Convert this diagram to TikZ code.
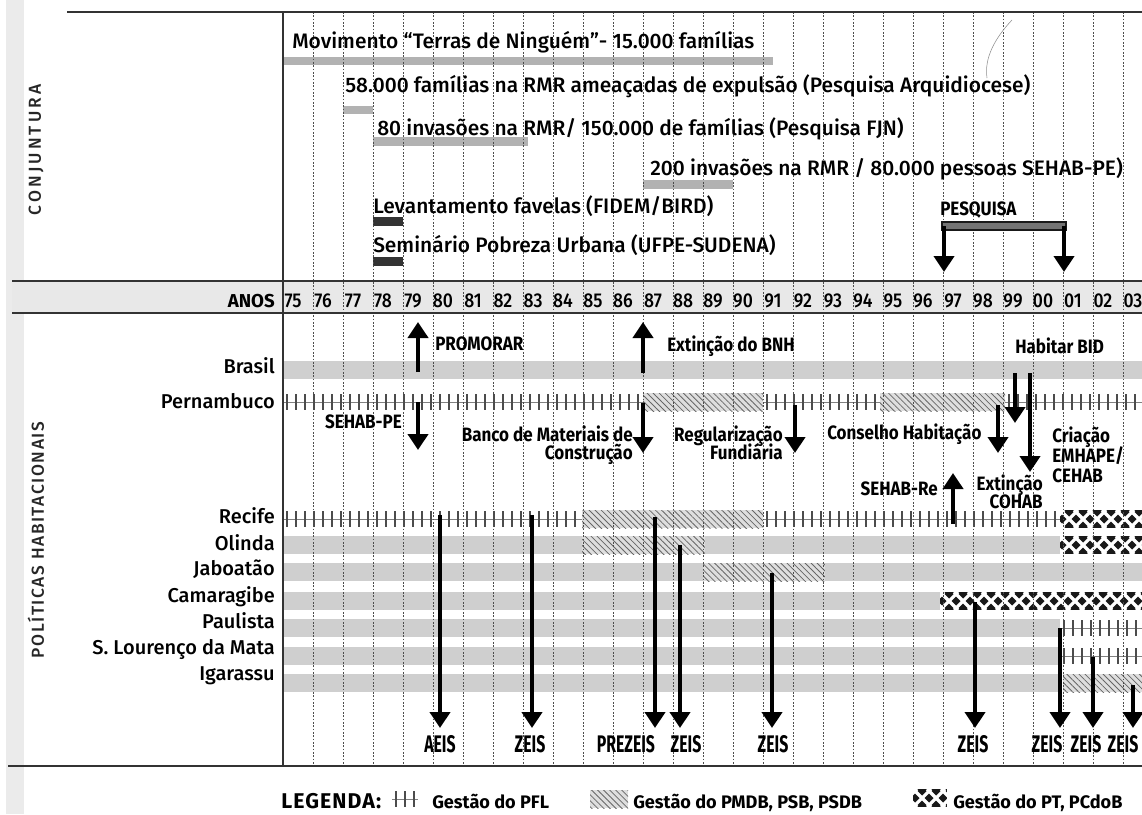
\documentclass[tikz,border=0pt]{standalone}
\usepackage{fontspec}
\setmainfont{Fira Sans}[UprightFont=* Medium, BoldFont=* Bold]
\newfontfamily\condfont{Fira Sans}[UprightFont=* Medium, BoldFont=* Bold, FakeStretch=0.88]
\newfontfamily\zeisfont{Fira Sans}[UprightFont=* Medium, BoldFont=* Bold, FakeStretch=0.66]
\usepackage{tikz}
\usetikzlibrary{arrows.meta,patterns.meta}

\tikzset{
  gridline/.style={black!70, line width=0.45pt, dash pattern=on 1.2pt off 1.3pt},
  frameline/.style={black!80, line width=1.1pt},
  conjtxt/.style={anchor=base west, inner sep=0pt, font=\fontsize{15.7}{17}\selectfont},
  rowlbl/.style={anchor=base east, inner sep=0pt, font=\fontsize{15}{17}\selectfont},
  anolbl/.style={anchor=base, inner sep=0pt, font=\condfont\fontsize{15}{17}\selectfont},
  evtlbl/.style={inner sep=0pt, font=\condfont\bfseries\fontsize{14.5}{16}\selectfont},
  evtlines/.style={evtlbl, font={\condfont\bfseries\fontsize{14.5}{#1}\selectfont\lineskiplimit=-100pt}},
  zeislbl/.style={anchor=base, inner sep=0pt, font=\zeisfont\bfseries\fontsize{18}{20}\selectfont},
  sidelbl/.style={rotate=90, inner sep=0pt, text=black!85},
  legtxt/.style={anchor=base west, inner sep=0pt, font=\bfseries\fontsize{13.6}{15}\selectfont},
  evt/.style={line width=3pt, -{Triangle[width=15pt,length=12pt]}},
  conjbar/.style={fill=black!30},
  darkbar/.style={fill=black!80},
}

% bands: {x from}{x to}{top y}
\newcommand{\grayband}[3]{\fill[black!19] (#1,#3) rectangle (#2,#3+18);}
\newcommand{\pflband}[3]{%
  \draw[black!50, line width=0.5pt] (#1,#3+9) -- (#2,#3+9);
  \pgfmathtruncatemacro{\ntk}{(#2-#1-4)/9}
  \foreach \tk in {0,...,\ntk}
    \draw[black!70, line width=1.1pt] ({#1+4+9*\tk},#3+1) -- ++(0,16);
}
\newcommand{\pmdbband}[3]{%
  \fill[black!13] (#1,#3) rectangle (#2,#3+18);
  \fill[pattern={Lines[angle=-45,distance=3.2pt,line width=0.6pt]}, pattern color=black!60]
    (#1,#3) rectangle (#2,#3+18);
}
\newcommand{\ptband}[3]{%
  \begin{scope}
    \clip (#1,#3) rectangle (#2,#3+18);
    \fill[black!90] (#1,#3) rectangle (#2,#3+18);
    \pgfmathtruncatemacro{\ntk}{(#2-#1)/14+2}
    \foreach \tk in {-2,...,\ntk} {
      \draw[white, line width=2.4pt] ({#1+14*\tk},#3) -- ++(18,18);
      \draw[white, line width=2.4pt] ({#1+14*\tk},#3+18) -- ++(18,-18);
    }
  \end{scope}
}

\begin{document}
\begin{tikzpicture}[x=0.75pt, y=-0.75pt]
\useasboundingbox (0,0) rectangle (1142,814);

% binding shade and years row
\fill[black!8] (6,0) rectangle (24,814);
\fill[black!9] (12,281) rectangle (1142,313);

% Conjuntura bars
\fill[conjbar] (283,57) rectangle (773,65);
\fill[conjbar] (343,106) rectangle (373,114);
\fill[conjbar] (373,137) rectangle (528,146);
\fill[conjbar] (643,180) rectangle (733,189);
\fill[darkbar] (373,217) rectangle (403,226);
\fill[darkbar] (373,257) rectangle (403,266);

% Politicas bands
\grayband{283}{1142}{361}
\pflband{283}{643}{393}
\pmdbband{643}{763}{393}
\pflband{763}{880}{393}
\pmdbband{880}{1005}{393}
\pflband{1005}{1142}{393}
\pflband{283}{582}{510}
\pmdbband{582}{763}{510}
\pflband{763}{1060}{510}
\ptband{1060}{1142}{510}
\grayband{283}{582}{536}
\pmdbband{582}{705}{536}
\grayband{705}{1060}{536}
\ptband{1060}{1142}{536}
\grayband{283}{703}{563}
\pmdbband{703}{825}{563}
\grayband{825}{1142}{563}
\grayband{283}{940}{592}
\ptband{940}{1142}{592}
\grayband{283}{1060}{619}
\pflband{1060}{1142}{619}
\grayband{283}{1060}{647}
\pflband{1060}{1142}{647}
\grayband{283}{1058}{674}
\pmdbband{1063}{1142}{674}

% Grid
\foreach \k in {0,...,27}
  \draw[gridline] ({313+30*\k},12) -- ({313+30*\k},766);

% Frame
\draw[frameline] (67,12) -- (1142,12);
\draw[frameline] (12,281) -- (1142,281);
\draw[frameline] (12,313) -- (1142,313);
\draw[frameline] (8,766) -- (1142,766);
\draw[black!80, line width=0.8pt] (283,12) -- (283,766);
\draw[black!45, line width=0.4pt] (1012,20) .. controls (995,38) and (984,58) .. (987,78);

% Side titles
\node[sidelbl, font={\fontsize{13}{15}\selectfont\addfontfeature{LetterSpace=18}}] (conjuntura) at (36,150) {CONJUNTURA};
\node[sidelbl, font={\fontsize{13}{15}\selectfont\addfontfeature{LetterSpace=9}}] (politicas) at (36,540) {POLÍTICAS HABITACIONAIS};

% Conjuntura
\node[conjtxt] (movimento) at (292,48) {Movimento “Terras de Ninguém”- 15.000 famílias};
\node[conjtxt] (ameacadas) at (345,92) {58.000 famílias na RMR ameaçadas de expulsão (Pesquisa Arquidiocese)};
\node[conjtxt] (invasoes80) at (377,135) {80 invasões na RMR/ 150.000 de famílias (Pesquisa FJN)};
\node[conjtxt] (invasoes200) at (650,175) {200 invasões na RMR / 80.000 pessoas SEHAB-PE)};
\node[conjtxt] (levantamento) at (373,213) {Levantamento favelas (FIDEM/BIRD)};
\node[conjtxt] (seminario) at (373,252) {Seminário Pobreza Urbana (UFPE-SUDENA)};

% Pesquisa
\node[evtlbl, anchor=base west] (pesquisa) at (940,215) {PESQUISA};
\coordinate (pesq-a) at (944,226);
\coordinate (pesq-a2) at (944,272);
\coordinate (pesq-b) at (1064,226);
\coordinate (pesq-b2) at (1064,272);
\filldraw[fill=black!55, draw=black!90, line width=1pt] (942,222) rectangle (1066,230);
\draw[evt] (pesq-a) -- (pesq-a2);
\draw[evt] (pesq-b) -- (pesq-b2);

% Anos
\node[anchor=base east, inner sep=0pt, font=\bfseries\fontsize{14}{16}\selectfont] (anos) at (275,307) {ANOS};
\foreach \yr [count=\i from 0] in {75,...,99,00,01,02,03}
  \node[anolbl] (ano\yr) at ({293+30*\i},307) {\yr};

% Rows
\node[rowlbl] (brasil) at (275,373) {Brasil};
\node[rowlbl] (pernambuco) at (275,408) {Pernambuco};
\node[rowlbl] (recife) at (275,523) {Recife};
\node[rowlbl] (olinda) at (275,550) {Olinda};
\node[rowlbl] (jaboatao) at (275,575) {Jaboatão};
\node[rowlbl] (camaragibe) at (275,602) {Camaragibe};
\node[rowlbl] (paulista) at (275,628) {Paulista};
\node[rowlbl] (lourenco) at (275,654) {S. Lourenço da Mata};
\node[rowlbl] (igarassu) at (275,680) {Igarassu};

% Events
\node[evtlbl, anchor=base west] (promorar) at (435,350) {PROMORAR};
\node[evtlbl, anchor=base west] (bnh) at (667,351) {Extinção do BNH};
\node[evtlbl, anchor=base west] (habitar) at (1015,353) {Habitar BID};
\node[evtlbl, anchor=base east] (sehabpe) at (402,428) {SEHAB-PE};
\node[evtlines=13.5pt, anchor=north east, align=right] (banco) at (633,426) {Banco de Materiais de\\Construção};
\node[evtlines=13.5pt, anchor=north east, align=right] (regul) at (783,426) {Regularização\\Fundiária};
\node[evtlbl, anchor=base west] (conselho) at (827,439) {Conselho Habitação};
\node[evtlines=15pt, anchor=north west, align=left] (criacao) at (1052,427) {Criação\\EMHAPE/\\CEHAB};
\node[evtlbl, anchor=base east] (sehabre) at (938,495) {SEHAB-Re};
\node[evtlines=13.2pt, anchor=north east, align=right] (cohab) at (1043,475) {Extinção\\COHAB};

\foreach \n/\x/\ya/\yb in {promorar/418/372/322, bnh/643/373/322, sehabre/953/524/473,
    sehabpe/418/402/450, banco/643/403/453, regul/795/405/453, conselho/998/405/453,
    habitara/1015/373/423, habitarb/1030/373/472} {
  \coordinate (\n-s) at (\x,\ya);
  \coordinate (\n-e) at (\x,\yb);
  \draw[evt] (\n-s) -- (\n-e);
}

% Zeis
\foreach \n/\x/\ya in {aeis/440/515, zeisa/532/515, prezeis/655/517, zeisb/680/545,
    zeisc/772/573, zeisd/975/602, zeise/1060/628, zeisf/1093/657, zeisg/1133/685} {
  \coordinate (\n-s) at (\x,\ya);
  \coordinate (\n-e) at (\x,728);
  \draw[evt] (\n-s) -- (\n-e);
}
\foreach \n/\x/\txt in {aeis/440/AEIS, zeisa/530/ZEIS, prezeis/626/PREZEIS, zeisb/686/ZEIS,
    zeisc/773/ZEIS, zeisd/973/ZEIS, zeise/1047/ZEIS, zeisf/1086/ZEIS, zeisg/1123/ZEIS}
  \node[zeislbl] (\n) at (\x,752) {\txt};

% Legenda
\node[anchor=base west, inner sep=0pt, font={\bfseries\fontsize{16}{18}\selectfont\addfontfeature{LetterSpace=5}}] (legenda) at (281,808) {LEGENDA:};
\pflband{392}{418}{790}
\node[legtxt] (leg-pfl) at (432,808) {Gestão do PFL};
\pmdbband{590}{628}{790}
\node[legtxt] (leg-pmdb) at (633,808) {Gestão do PMDB, PSB, PSDB};
\ptband{913}{947}{789}
\node[legtxt] (leg-pt) at (953,808) {Gestão do PT, PCdoB};
\end{tikzpicture}
\end{document}
